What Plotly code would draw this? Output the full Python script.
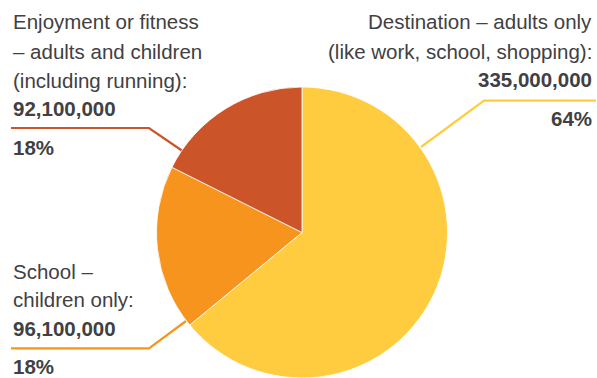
import plotly.graph_objects as go

# ---- data ----
categories = ["Destination – adults only (like work, school, shopping)",
              "School – children only",
              "Enjoyment or fitness – adults and children (including running)"]
values = [335000000, 96100000, 92100000]
value_labels = ["335,000,000", "96,100,000", "92,100,000"]
pct_labels = ["64%", "18%", "18%"]
colors = ["#FFCC40", "#F7941E", "#CB5428"]

W, H = 597, 378
TXT = "#414042"
FONT = "Liberation Sans, Arial, Helvetica, sans-serif"
FS = 20.5


def px(x):
    return x / W


def py(y):
    return 1 - y / H


fig = go.Figure()
fig.add_trace(go.Pie(
    labels=categories, values=values, sort=False, direction="clockwise",
    rotation=0, textinfo="none", hoverinfo="skip",
    marker=dict(colors=colors, line=dict(color="white", width=0.8)),
    domain=dict(x=[px(156), px(448)], y=[0, py(87)]),
    showlegend=False,
))

annotations = []


def add_line(text, x, baseline, align, bold=False):
    t = f"<b>{text}</b>" if bold else text
    annotations.append(dict(
        text=t, x=px(x), y=py(baseline - 0.34 * FS), xref="paper", yref="paper",
        xanchor=align, yanchor="middle", showarrow=False,
        font=dict(family=FONT, size=FS, color=TXT), align=align,
    ))


# Enjoyment block (top-left)
for t, b in [("Enjoyment or fitness", 28.3), ("– adults and children", 58.3),
             ("(including running):", 87.3)]:
    add_line(t, 11, b, "left")
add_line(value_labels[2], 11, 115, "left", bold=True)
add_line(pct_labels[2], 11, 154, "left", bold=True)

# Destination block (top-right)
for t, b in [("Destination – adults only", 28.3),
             ("(like work, school, shopping):", 58.3)]:
    add_line(t, 594, b, "right")
add_line(value_labels[0], 594, 86, "right", bold=True)
add_line(pct_labels[0], 594, 125, "right", bold=True)

# School block (bottom-left)
for t, b in [("School –", 278.3), ("children only:", 306.7)]:
    add_line(t, 11, b, "left")
add_line(value_labels[1], 11, 335, "left", bold=True)
add_line(pct_labels[1], 11, 373.5, "left", bold=True)


def leader(points, color):
    d = "M " + " L ".join(f"{px(x)},{py(y)}" for x, y in points)
    return dict(type="path", path=d, xref="paper", yref="paper",
                line=dict(color=color, width=2.2), layer="below")


shapes = [
    leader([(11, 128), (149, 128), (184, 152)], colors[2]),
    leader([(596, 100.7), (484, 100.7), (421, 147)], colors[0]),
    leader([(11, 348.3), (149, 348.3), (186, 321)], colors[1]),
]

fig.update_layout(
    width=W, height=H, margin=dict(l=0, r=0, t=0, b=0),
    paper_bgcolor="white", plot_bgcolor="white",
    annotations=annotations, shapes=shapes,
)

fig.write_html(
    "out.html",
    config={"displayModeBar": False, "staticPlot": True},
    post_script="document.body.style.margin='0';document.body.style.overflow='hidden';",
)
